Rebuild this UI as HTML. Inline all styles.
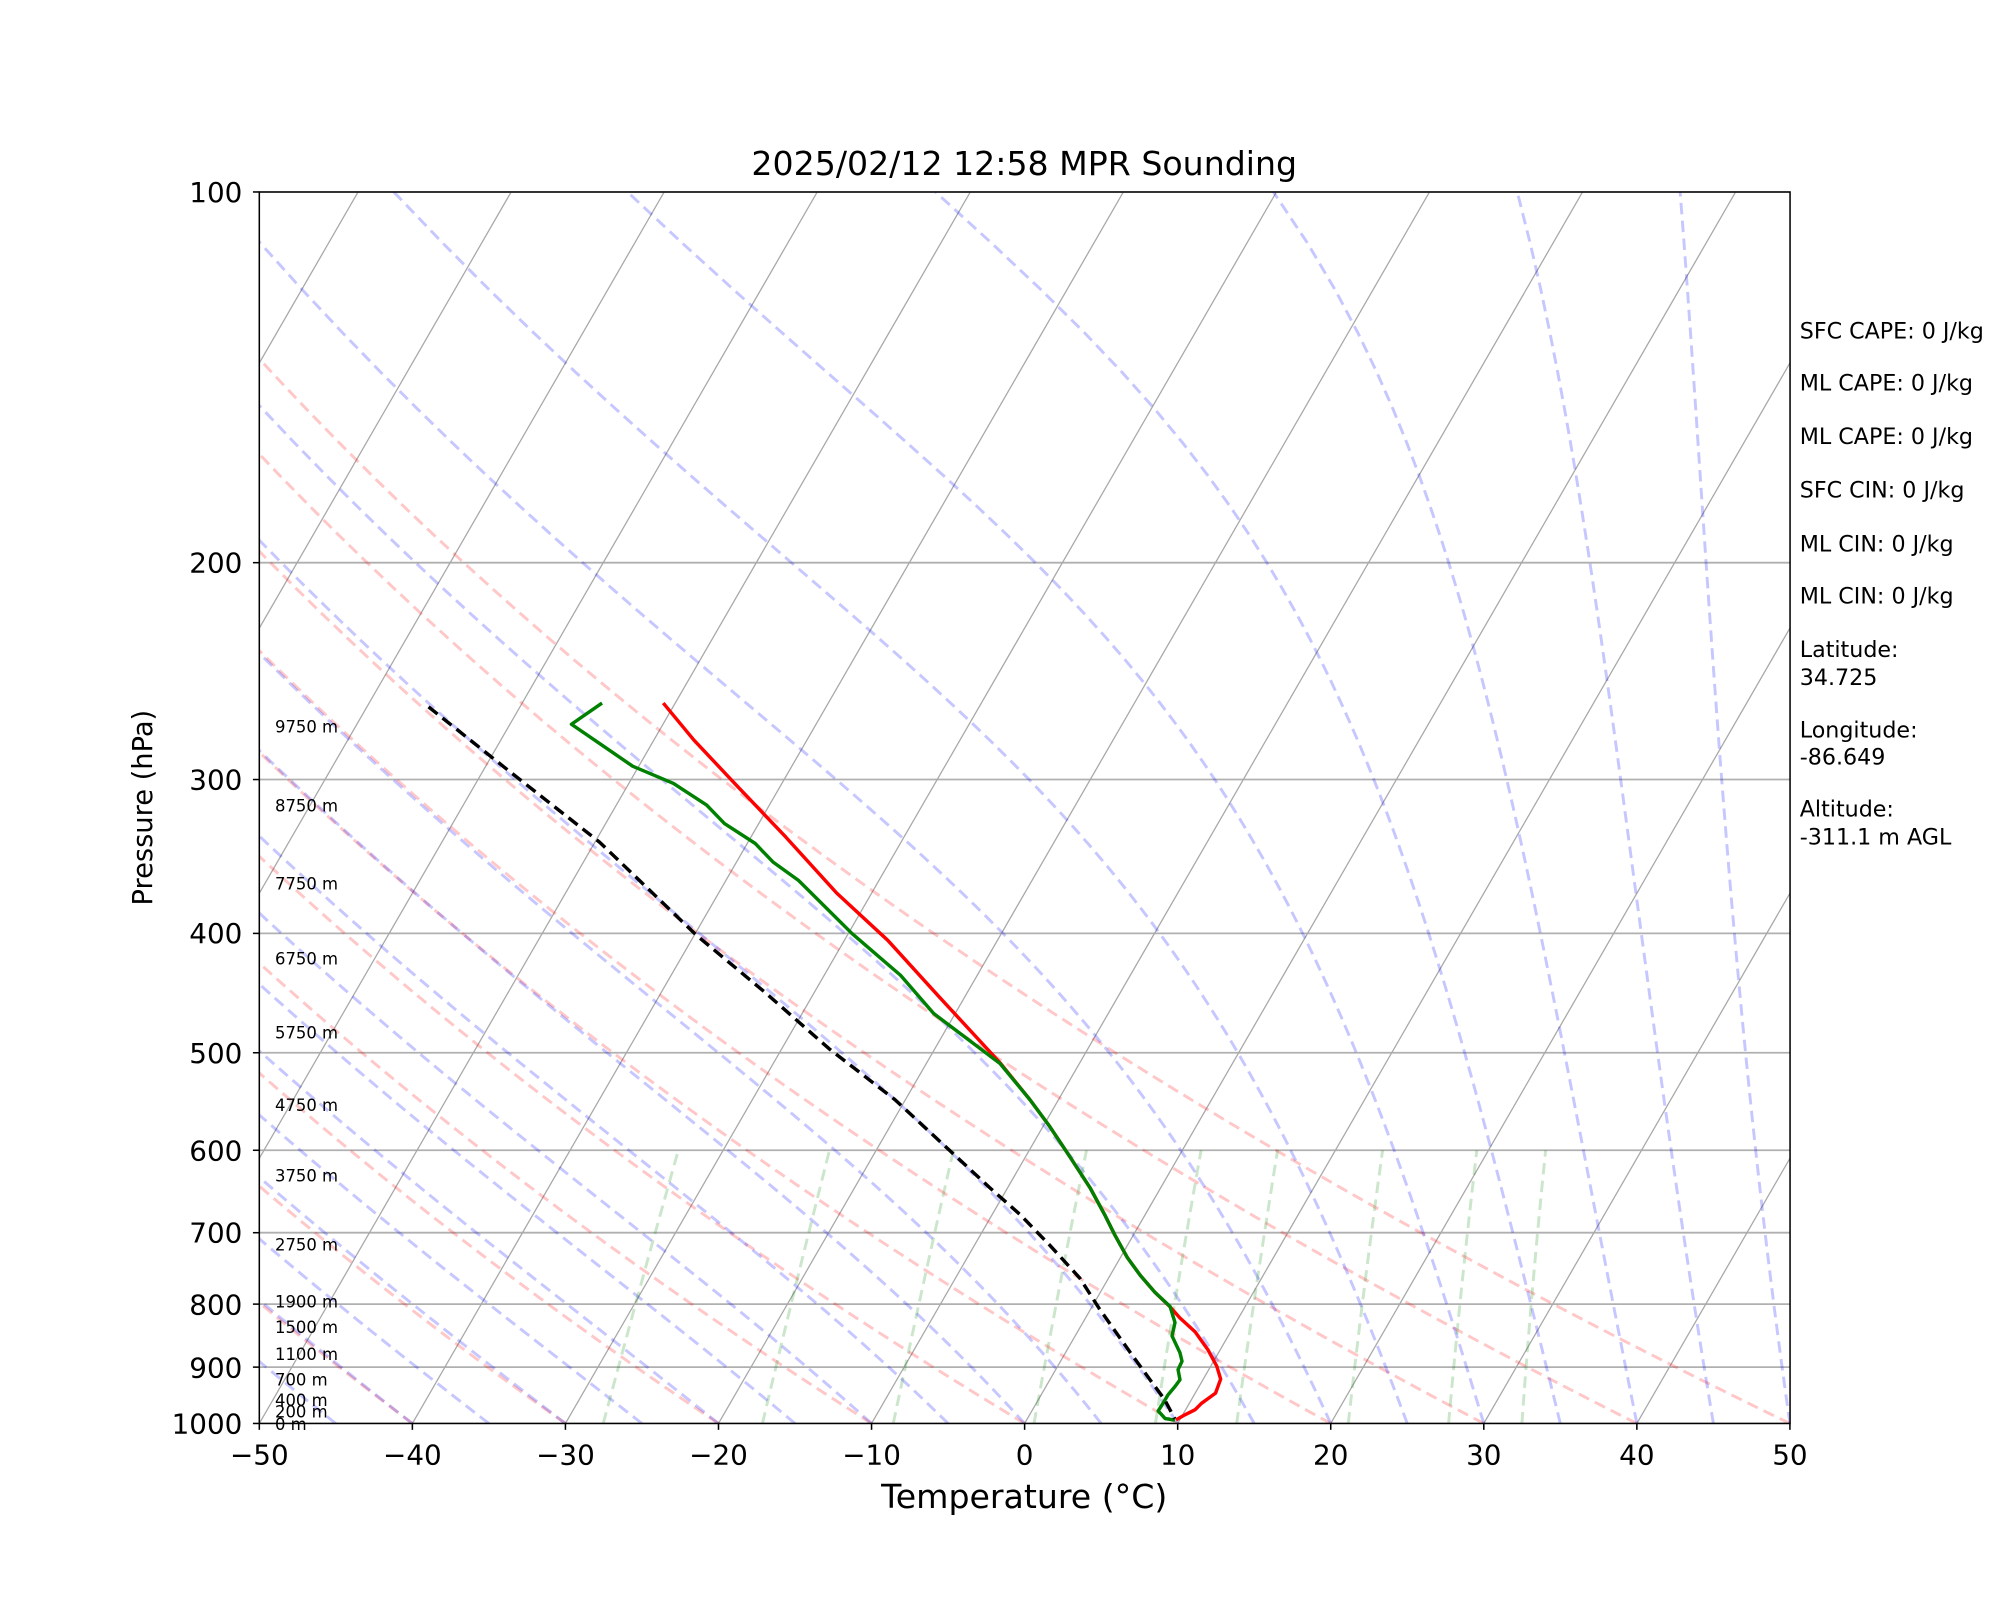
<!DOCTYPE html>
<html><head><meta charset="utf-8"><style>
html,body{margin:0;padding:0;background:#fff;}
svg{display:block;font-family:"DejaVu Sans","Liberation Sans",sans-serif;}
</style></head><body>
<svg id="s" width="2000" height="1600" viewBox="0 0 1568 1254" xmlns="http://www.w3.org/2000/svg">
<defs><clipPath id="c"><rect x="203.3" y="150.3" width="1200.1" height="965.5"/></clipPath></defs>
<rect width="1568" height="1254" fill="#fff"/>
<g id="bg" clip-path="url(#c)"></g>
<g id="tr" clip-path="url(#c)" fill="none" stroke-width="2.7" stroke-linejoin="round">
<polyline stroke="#ff0000" points="520,551 544,580 576,614 616,656 656,700 696,737 736,781 784,833"/>
<polyline stroke="#ff0000" points="784,833 807.5,862 823,883 839,907 854.6,931 866,952 874,968 884,986 894,999.7 905.5,1013 917,1024 925,1033 937,1044 947,1058 954,1071 957,1081 953,1092 942,1100 937,1105 929,1109 922,1113"/>
<polyline stroke="#008000" points="472,551 448,567.6 472,584 496,600.5 528,614 554,631 568,645.5 592,661 606,675.6 626,690 668,731.7 706,764.4 732,794.4 784,833.6 807.5,862 823,883 839,907 854.6,931 866,952 874,968 884,986 894,999.7 905.5,1013 917.3,1024 921.2,1036.6 918.9,1047.2 925.1,1060.4 926.7,1067 923.6,1073.6 925.1,1081.5 921.2,1086.8 915.7,1093.4 911,1101.3 908,1106 911,1109.2 913.4,1111.9 921.2,1113.2"/>
<polyline stroke="#000" stroke-dasharray="9,5" points="336,554 400,605 470,660 546,733 600,778 650,822 701.7,862 744.8,902 776,931 799.7,952 823,976 846.7,1002 862,1026 886,1060 901.6,1081.5 913,1097 921,1112"/>
</g>
<rect x="203.3" y="150.3" width="1200.1" height="965.5" fill="none" stroke="#000" stroke-width="1.2"/>
<g id="tk" stroke="#000" stroke-width="1"></g>
<g font-size="21.8" fill="#000">
<g text-anchor="middle">
<text x="203.3" y="1148">−50</text><text x="323.3" y="1148">−40</text><text x="443.3" y="1148">−30</text><text x="563.3" y="1148">−20</text><text x="683.3" y="1148">−10</text><text x="803.3" y="1148">0</text><text x="923.3" y="1148">10</text><text x="1043.3" y="1148">20</text><text x="1163.3" y="1148">30</text><text x="1283.3" y="1148">40</text><text x="1403.3" y="1148">50</text>
</g>
<g text-anchor="end">
<text x="190" y="1123.5">1000</text><text x="190" y="1079.7">900</text><text x="190" y="1030.3">800</text><text x="190" y="974">700</text><text x="190" y="909.6">600</text><text x="190" y="833">500</text><text x="190" y="739.3">400</text><text x="190" y="618.7">300</text><text x="190" y="448.6">200</text><text x="190" y="158">100</text>
</g>
</g>
<text x="803" y="1182" font-size="26" text-anchor="middle">Temperature (°C)</text>
<text transform="translate(119,633) rotate(-90)" font-size="21.4" text-anchor="middle">Pressure (hPa)</text>
<text x="803" y="137" font-size="26" text-anchor="middle">2025/02/12 12:58 MPR Sounding</text>
<g font-size="12.9">
<text x="215.6" y="574">9750 m</text><text x="215.6" y="636">8750 m</text><text x="215.6" y="697">7750 m</text><text x="215.6" y="756">6750 m</text><text x="215.6" y="814">5750 m</text><text x="215.6" y="871">4750 m</text><text x="215.6" y="926">3750 m</text><text x="215.6" y="980">2750 m</text><text x="215.6" y="1025">1900 m</text><text x="215.6" y="1045">1500 m</text><text x="215.6" y="1066">1100 m</text><text x="215.6" y="1086">700 m</text><text x="215.6" y="1102">400 m</text><text x="215.6" y="1111">200 m</text><text x="215.6" y="1121">0 m</text>
</g>
<g font-size="17.4">
<text x="1411" y="265">SFC CAPE: 0 J/kg</text>
<text x="1411" y="306">ML CAPE: 0 J/kg</text>
<text x="1411" y="348">ML CAPE: 0 J/kg</text>
<text x="1411" y="390">SFC CIN: 0 J/kg</text>
<text x="1411" y="432">ML CIN: 0 J/kg</text>
<text x="1411" y="473">ML CIN: 0 J/kg</text>
<text x="1411" y="515">Latitude:</text><text x="1411" y="537">34.725</text>
<text x="1411" y="578">Longitude:</text><text x="1411" y="599">-86.649</text>
<text x="1411" y="640">Altitude:</text><text x="1411" y="662">-311.1 m AGL</text>
</g>
</svg>
<script>
(function(){
var L=203.3,R=1403.4,T=150.3,B=1115.8,S=12.0,K=Math.tan(Math.PI/6);
function Y(p){return B-(B-T)*Math.log10(1000/p);}
function X(t,p){var y=Y(p);return L+(t+50)*S+(B-y)*K;}
var ns="http://www.w3.org/2000/svg",bg=document.getElementById('bg'),tk=document.getElementById('tk');
function line(g,pts,st,w,da,op){var e=document.createElementNS(ns,'polyline');e.setAttribute('points',pts.map(function(a){return a[0].toFixed(2)+','+a[1].toFixed(2)}).join(' '));e.setAttribute('fill','none');e.setAttribute('stroke',st);e.setAttribute('stroke-width',w);if(da)e.setAttribute('stroke-dasharray',da);if(op)e.setAttribute('stroke-opacity',op);g.appendChild(e);}
[100,200,300,400,500,600,700,800,900,1000].forEach(function(p){line(bg,[[L,Y(p)],[R,Y(p)]],'#b0b0b0',1.4);line(tk,[[L-5,Y(p)],[L,Y(p)]],'#000',1.2);});
for(var t=-50;t<=50;t+=10){var x=L+(t+50)*S;line(tk,[[x,B],[x,B+5]],'#000',1.2);}
for(var t=-160;t<=50;t+=10){line(bg,[[X(t,1000),B],[X(t,100),T]],'#a8a8a8',1);}
var ps=[];for(var p=1000;p>=99;p-=10)ps.push(p);
for(var th=-50;th<=50;th+=10){var pts=ps.map(function(p){var tk2=(th+273.15)*Math.pow(p/1000,0.2857)-273.15;return [X(tk2,p),Y(p)];});line(bg,pts,'#ff0000',2.3,'9,5','0.22');}
var Rd=287.04,Cp=1005.7,Lv=2.501e6,eps=0.622;
function es(T){var c=T-273.15;return 6.112*Math.exp(17.67*c/(c+243.5));}
function f(p,T){var e=es(T),rs=eps*e/(p-e);return (Rd*T+Lv*rs)/(Cp+Lv*Lv*rs*eps/(Rd*T*T))/p;}
for(var t0=-50;t0<=50;t0+=5){var Tk=t0+273.15,p=1000,h=-2,pts=[[X(t0,1000),Y(1000)]];
 while(p>100){var k1=f(p,Tk),k2=f(p+h/2,Tk+h/2*k1),k3=f(p+h/2,Tk+h/2*k2),k4=f(p+h,Tk+h*k3);Tk+=h/6*(k1+2*k2+2*k3+k4);p+=h;if(Math.round(p)%10==0)pts.push([X(Tk-273.15,p),Y(p)]);}
 line(bg,pts,'#0000ff',2.3,'9,5','0.22');}
[0.0004,0.001,0.002,0.004,0.007,0.01,0.016,0.024,0.032].forEach(function(w){var pts=[];for(var p=1000;p>=600;p-=20){var e=p*w/(eps+w),l=Math.log(e/6.112),td=243.5*l/(17.67-l);pts.push([X(td,p),Y(p)]);}line(bg,pts,'#008000',2.3,'9,5','0.2');});
})();
</script>
</body></html>
